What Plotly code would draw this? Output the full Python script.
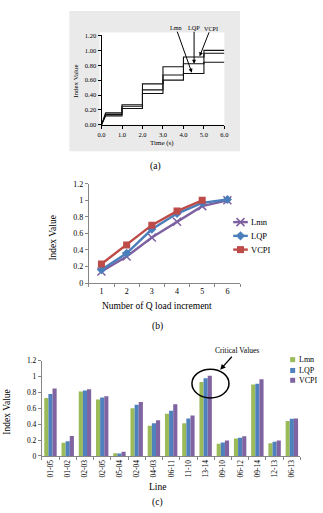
import plotly.graph_objects as go

W, H = 323, 513
FONT = "Liberation Serif"

# ---------------- Panel (a): step responses ----------------
a_step_times = [0, 1, 2, 3, 4, 5, 6]
a_rise_end = 0.2
a_lmn = [0.12, 0.22, 0.42, 0.60, 0.69, 0.84]
a_lqp = [0.14, 0.25, 0.47, 0.67, 0.82, 0.96]
a_vcpi = [0.16, 0.27, 0.55, 0.78, 0.91, 1.00]
a_xticks = [0, 1, 2, 3, 4, 5, 6]
a_yticks = [0, 0.2, 0.4, 0.6, 0.8, 1.0, 1.2]

# ---------------- Panel (b): line chart ----------------
b_steps = ["1", "2", "3", "4", "5", "6"]
b_lmn = [0.14, 0.32, 0.55, 0.74, 0.93, 1.00]
b_lqp = [0.16, 0.36, 0.65, 0.84, 0.97, 1.01]
b_vcpi = [0.23, 0.46, 0.70, 0.87, 1.00]
b_yticks = [0, 0.2, 0.4, 0.6, 0.8, 1.0, 1.2]

# ---------------- Panel (c): grouped bars ----------------
c_lines = ["01-05", "01-02", "02-03", "02-05", "05-04", "02-04", "04-03", "06-11",
           "11-10", "13-14", "09-10", "06-12", "09-14", "12-13", "06-13"]
c_lmn = [0.73, 0.165, 0.81, 0.71, 0.033, 0.60, 0.38, 0.53, 0.41, 0.93, 0.153, 0.22, 0.90, 0.16, 0.44]
c_lqp = [0.78, 0.186, 0.823, 0.736, 0.03, 0.645, 0.41, 0.57, 0.47, 0.977, 0.17, 0.228, 0.91, 0.178, 0.467]
c_vcpi = [0.85, 0.25, 0.84, 0.75, 0.054, 0.68, 0.45, 0.65, 0.51, 1.01, 0.194, 0.248, 0.964, 0.194, 0.47]
c_yticks = [0, 0.2, 0.4, 0.6, 0.8, 1.0, 1.2]

series_names = ["Lmn", "LQP", "VCPI"]
b_colors = ["#7D60A0", "#4A7EBB", "#BE4B48"]
b_symbols = ["x-thin", "diamond", "square"]
c_colors = ["#9BBB59", "#4F81BD", "#8064A2"]


def px(x):
    return x / W


def py(y):
    return 1 - y / H


def step_xy(levels):
    xs, ys = [a_step_times[0]], [0]
    for i, lv in enumerate(levels):
        start = a_step_times[i] + (a_rise_end if i == 0 else 0)
        xs += [start, a_step_times[i + 1]]
        ys += [lv, lv]
    return xs, ys


fig = go.Figure()

# (a) traces
for vals in (a_lmn, a_lqp, a_vcpi):
    xs, ys = step_xy(vals)
    fig.add_trace(go.Scatter(x=xs, y=ys, mode="lines", line=dict(color="#111111", width=1.1),
                             xaxis="x", yaxis="y", showlegend=False, hoverinfo="skip"))

# (b) traces
for name, vals, col, sym in zip(series_names, (b_lmn, b_lqp, b_vcpi), b_colors, b_symbols):
    mk = dict(symbol=sym, size=7 if sym != "x-thin" else 8, color=col,
              line=dict(color=col, width=1.5 if sym == "x-thin" else 0))
    fig.add_trace(go.Scatter(x=b_steps[:len(vals)], y=vals, mode="lines+markers", name=name,
                             line=dict(color=col, width=2.4), marker=mk,
                             xaxis="x2", yaxis="y2", showlegend=False))

# (c) traces
for name, vals, col in zip(series_names, (c_lmn, c_lqp, c_vcpi), c_colors):
    fig.add_trace(go.Bar(x=c_lines, y=vals, name=name, marker=dict(color=col, line=dict(width=0)),
                         xaxis="x3", yaxis="y3", showlegend=False))

# manual legends drawn on an invisible full-page pixel axis
b_leg_rows = [222, 236, 250]
for col, sym, yr in zip(b_colors, b_symbols, b_leg_rows):
    fig.add_trace(go.Scatter(x=[235, 250], y=[yr, yr], mode="lines", line=dict(color=col, width=2.4),
                             xaxis="x4", yaxis="y4", showlegend=False, hoverinfo="skip"))
    fig.add_trace(go.Scatter(x=[242.5], y=[yr], mode="markers",
                             marker=dict(symbol=sym, size=7 if sym != "x-thin" else 8, color=col,
                                         line=dict(color=col, width=1.5 if sym == "x-thin" else 0)),
                             xaxis="x4", yaxis="y4", showlegend=False, hoverinfo="skip"))
c_leg_rows = [362, 373, 383]
for col, yr in zip(c_colors, c_leg_rows):
    fig.add_trace(go.Scatter(x=[296], y=[yr], mode="markers",
                             marker=dict(symbol="square", size=5, color=col),
                             xaxis="x4", yaxis="y4", showlegend=False, hoverinfo="skip"))

axis_common = dict(showgrid=False, zeroline=False, showline=True, ticks="outside", ticklen=3,
                   tickwidth=1)

fig.update_layout(
    width=W, height=H, margin=dict(l=0, r=0, t=0, b=0),
    paper_bgcolor="white", plot_bgcolor="rgba(0,0,0,0)",
    font=dict(family=FONT, color="black"),
    barmode="group", bargap=0.28, bargroupgap=0,
    xaxis=dict(domain=[px(100), px(226)], range=[0, 6], tickvals=a_xticks, tickformat=".1f",
               linecolor="black", tickcolor="black", tickfont=dict(size=6.5), anchor="y",
               **axis_common),
    yaxis=dict(domain=[py(123), py(32)], range=[0, 1.2], tickvals=a_yticks, tickformat=".2f",
               linecolor="black", tickcolor="black", tickfont=dict(size=6.5), anchor="x",
               **axis_common),
    xaxis2=dict(domain=[px(87), px(242)], type="category", categoryorder="array",
                categoryarray=b_steps, range=[-0.5, 5.5], tickson="boundaries",
                linecolor="#868686", tickcolor="#868686", tickfont=dict(size=8), anchor="y2",
                **axis_common),
    yaxis2=dict(domain=[py(284), py(183)], range=[0, 1.2], tickvals=b_yticks,
                linecolor="#868686", tickcolor="#868686", tickfont=dict(size=8), anchor="x2",
                **axis_common),
    xaxis3=dict(domain=[px(38.8), px(304)], type="category", categoryorder="array",
                categoryarray=c_lines, range=[-0.5, 14.5], tickson="boundaries", tickangle=-90,
                linecolor="#868686", tickcolor="#868686", tickfont=dict(size=7.5), anchor="y3",
                **axis_common),
    yaxis3=dict(domain=[py(460), py(363)], range=[0, 1.2], tickvals=c_yticks,
                linecolor="#868686", tickcolor="#868686", tickfont=dict(size=7.5), anchor="x3",
                **axis_common),
    xaxis4=dict(domain=[0, 1], range=[0, W], visible=False, anchor="y4", fixedrange=True),
    yaxis4=dict(domain=[0, 1], range=[H, 0], visible=False, anchor="x4", fixedrange=True),
)

# panel (a) background frame and white plot area
fig.add_shape(type="rect", xref="paper", yref="paper", x0=px(67), x1=px(242), y0=py(150), y1=py(7),
              fillcolor="#EAEAEA", line=dict(width=0), layer="below")
fig.add_shape(type="rect", xref="paper", yref="paper", x0=px(98), x1=px(226), y0=py(123), y1=py(29),
              fillcolor="white", line=dict(width=0), layer="below")

# critical values ellipse
fig.add_shape(type="circle", xref="paper", yref="paper", x0=px(192.7), x1=px(230.7),
              y0=py(401), y1=py(371.7), line=dict(color="black", width=1.5))

ann = []


def txt(x, y, s, size, angle=0, xanchor="center"):
    ann.append(dict(x=px(x), y=py(y), xref="paper", yref="paper", text=s, showarrow=False,
                    font=dict(size=size, family=FONT, color="black"), textangle=angle,
                    xanchor=xanchor, yanchor="middle"))


# panel (a) texts
txt(162, 141, "Time (s)", 7)
txt(73, 78, "Index Value", 7, angle=-90)
txt(155, 165, "(a)", 9.5)
for name, hx, hy, ax, ay in (("Lmn", 4.41, 0.70, -16, -45),
                             ("LQP", 4.52, 0.82, 0, -36),
                             ("VCPI", 4.79, 0.92, 11, -28)):
    ann.append(dict(x=hx, y=hy, xref="x", yref="y", text=name, showarrow=True, ax=ax, ay=ay,
                    arrowhead=2, arrowsize=0.8, arrowwidth=1, arrowcolor="black", borderpad=0,
                    font=dict(size=6.2, family=FONT, color="black")))

# panel (b) texts
txt(50, 238, "Index Value", 9.5, angle=-90)
txt(157, 307, "Number of Q load increment", 9.5)
txt(157, 328, "(b)", 9.5)
for name, yr in zip(series_names, b_leg_rows):
    txt(251, yr, name, 8.5, xanchor="left")

# panel (c) texts
txt(3, 415, "Index Value", 9.5, angle=-90)
txt(157, 492, "Line", 9.5)
txt(157, 507, "(c)", 9.5)
for name, yr in zip(series_names, c_leg_rows):
    txt(300, yr, name, 8, xanchor="left")
ann.append(dict(x=px(221.7), y=py(372.3), xref="paper", yref="paper", text="Critical Values",
                showarrow=True, ax=17, ay=-19, arrowhead=2, arrowsize=0.9, arrowwidth=1.2,
                arrowcolor="black", font=dict(size=7.5, family=FONT, color="black")))

fig.update_layout(annotations=ann)
fig.write_html("out.html")
